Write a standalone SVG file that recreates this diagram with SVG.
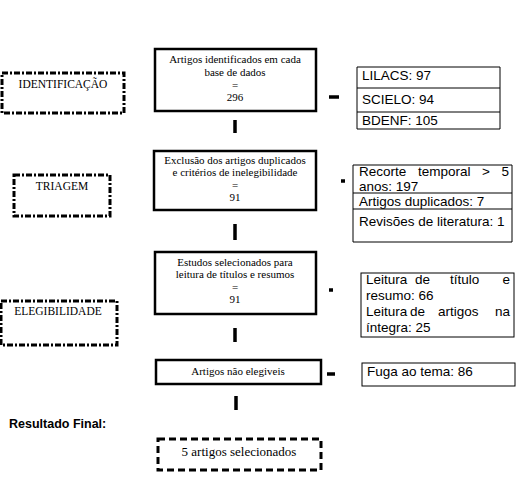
<svg xmlns="http://www.w3.org/2000/svg" width="523" height="487" viewBox="0 0 523 487">
<style>
.box{fill:#fff;stroke:#000;stroke-width:2.5}
.stage{fill:none;stroke:#000;stroke-width:3;stroke-dasharray:6 2 2 2}
.tab{fill:none;stroke:#000;stroke-width:1}
.s{font-family:"Liberation Serif",serif;font-size:11px;fill:#000;text-anchor:middle}
.st{font-family:"Liberation Serif",serif;font-size:11.5px;fill:#000;text-anchor:middle}
.a{font-family:"Liberation Sans",Arial,sans-serif;font-size:13.5px;fill:#000}
.e{text-anchor:end}
.c{stroke:#000;stroke-width:3.5;fill:none}
</style>
<rect width="523" height="487" fill="#fff"/>
<g id="identificacao"><rect class="stage" x="2" y="73" width="122" height="40"/><text class="st" x="63" y="88">IDENTIFICAÇÃO</text></g>
<g id="triagem"><rect class="stage" x="14" y="175" width="96" height="41"/><text class="st" x="62" y="190">TRIAGEM</text></g>
<g id="elegibilidade"><rect class="stage" x="1" y="301" width="116" height="44"/><text class="st" x="58" y="315">ELEGIBILIDADE</text></g>
<g id="box1"><rect class="box" x="155" y="49" width="161" height="62"/><text class="s" x="235" y="63">Artigos identificados em cada</text><text class="s" x="235" y="76">base de dados</text><text class="s" x="235" y="89">=</text><text class="s" x="235" y="101">296</text></g>
<g id="box2"><rect class="box" x="154" y="151" width="162" height="59"/><text class="s" x="235" y="164">Exclusão dos artigos duplicados</text><text class="s" x="235" y="176">e critérios de inelegibilidade</text><text class="s" x="235" y="189">=</text><text class="s" x="235" y="201">91</text></g>
<g id="box3"><rect class="box" x="155" y="252" width="161" height="62"/><text class="s" x="235" y="266">Estudos selecionados para</text><text class="s" x="235" y="278">leitura de títulos e resumos</text><text class="s" x="235" y="291">=</text><text class="s" x="235" y="303">91</text></g>
<g id="box4"><rect class="box" x="156" y="360" width="165" height="24"/><text class="s" x="238" y="375">Artigos não elegiveis</text></g>
<g id="final"><rect x="158" y="439" width="163" height="31" fill="none" stroke="#000" stroke-width="3" stroke-dasharray="7 4"/><text class="st" x="239" y="456" style="font-size:13px">5 artigos selecionados</text></g>
<g id="bases"><path class="tab" d="M357 67V129M500 67V129M357 67H500M357 88H500M357 112H500M357 129H500"/><text class="a" x="362" y="80">LILACS: 97</text><text class="a" x="362" y="104">SCIELO: 94</text><text class="a" x="362" y="125">BDENF: 105</text></g>
<g id="exclusoes"><path class="tab" d="M353 165V242M512 165V242M353 165H512M353 193H512M353 209H512M353 242H512"/><text class="a" x="359" y="176">Recorte</text><text class="a" x="418" y="176">temporal</text><text class="a" x="482" y="176">&gt;</text><text class="a e" x="509" y="176">5</text><text class="a" x="359" y="191">anos: 197</text><text class="a" x="359" y="206">Artigos duplicados: 7</text><text class="a" x="359" y="226">Revisões de literatura: 1</text></g>
<g id="leitura"><rect class="tab" x="361" y="273" width="153" height="64"/><text class="a" x="366" y="284">Leitura</text><text class="a" x="415" y="284">de</text><text class="a" x="450" y="284">título</text><text class="a e" x="510" y="284">e</text><text class="a" x="366" y="300">resumo: 66</text><text class="a" x="366" y="316">Leitura</text><text class="a" x="410" y="316">de</text><text class="a" x="438" y="316">artigos</text><text class="a e" x="510" y="316">na</text><text class="a" x="366" y="332">íntegra: 25</text></g>
<g id="fuga"><rect class="tab" x="362" y="363" width="153" height="23"/><text class="a" x="367" y="376">Fuga ao tema: 86</text></g>
<text class="a" x="9" y="428" style="font-weight:bold;font-size:12.5px">Resultado Final:</text>
<g id="connectors">
<path class="c" d="M235 120V133M235 224V240M235 328V342M236 396V410"/>
<path class="c" d="M329 97H339M341 181H345M329 290H333M327 374H335"/>
</g>
</svg>
